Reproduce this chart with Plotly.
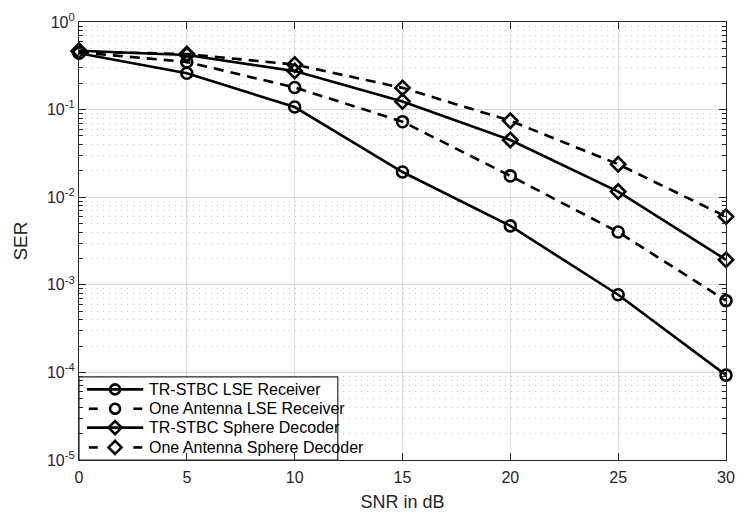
import plotly.graph_objects as go

snr = [0, 5, 10, 15, 20, 25, 30]
tr_lse = [0.44, 0.26, 0.107, 0.0194, 0.0047, 0.00077, 0.000093]
one_lse = [0.45, 0.35, 0.179, 0.0728, 0.0175, 0.0040, 0.00066]
tr_sd = [0.47, 0.42, 0.275, 0.124, 0.045, 0.0116, 0.00193]
one_sd = [0.46, 0.43, 0.327, 0.177, 0.0746, 0.0238, 0.0060]
names = ["TR-STBC LSE Receiver", "One Antenna LSE Receiver",
         "TR-STBC Sphere Decoder", "One Antenna Sphere Decoder"]
y_tickvals = [1e-5, 1e-4, 1e-3, 1e-2, 1e-1, 1]
y_ticktext = ["10<sup>-5</sup>", "10<sup>-4</sup>", "10<sup>-3</sup>",
              "10<sup>-2</sup>", "10<sup>-1</sup>", "10<sup>0</sup>"]

FONT = "Liberation Sans, Arial"
INK = "#262626"
DASH = "10px,7px"
fig = go.Figure()
series = [(tr_lse, "solid", "circle-open"), (one_lse, DASH, "circle-open"),
          (tr_sd, "solid", "diamond-open"), (one_sd, DASH, "diamond-open")]
for (ys, dash, sym), nm in zip(series, names):
    fig.add_trace(go.Scatter(
        x=snr, y=ys, name=nm, mode="lines+markers", cliponaxis=False,
        line=dict(color="black", width=2.6, dash=dash),
        marker=dict(symbol=sym, size=11, color="black", line=dict(width=2.6, color="black")),
        showlegend=False,
    ))

# ---- manual legend (overlay axis in pixel units of the plot area) ----
L_left, L_right, L_top, L_bottom = 79, 341, 378, 464
row_y = [391, 411, 430.5, 451]
legend_trace = dict(xaxis="x2", yaxis="y2", showlegend=False, hoverinfo="skip", cliponaxis=False)
fig.add_trace(go.Scatter(x=[L_left, L_right, L_right, L_left, L_left],
                         y=[L_top, L_top, L_bottom, L_bottom, L_top],
                         mode="lines", fill="toself", fillcolor="white",
                         line=dict(color=INK, width=1.2), **legend_trace))
for i, ((ys, dash, sym), nm) in enumerate(zip(series, names)):
    yy = row_y[i]
    if dash == "solid":
        segs = [(87, 144)]
    else:
        segs = [(89, 98), (134, 143)]
    for a, b in segs:
        fig.add_trace(go.Scatter(x=[a, b], y=[yy, yy], mode="lines",
                                 line=dict(color="black", width=2.6), **legend_trace))
    fig.add_trace(go.Scatter(x=[115.5], y=[yy], mode="markers",
                             marker=dict(symbol=sym, size=10, color="black",
                                         line=dict(width=2.6, color="black")),
                             **legend_trace))
    fig.add_annotation(x=148, y=yy, xref="x2", yref="y2", text=nm, showarrow=False,
                       xanchor="left", yanchor="middle",
                       font=dict(family=FONT, size=16, color="black"))

axis_common = dict(
    showline=True, linecolor=INK, linewidth=1.2, mirror="ticks",
    ticks="inside", ticklen=7, tickcolor=INK, tickwidth=1,
    tickfont=dict(family=FONT, size=16, color=INK),
    gridcolor="#dddddd", gridwidth=1, zeroline=False,
)
fig.update_xaxes(range=[0, 30], tickvals=snr, ticklabelstandoff=3,
                 title=dict(text="SNR in dB", font=dict(family=FONT, size=18, color=INK), standoff=10),
                 **axis_common)
fig.update_yaxes(type="log", range=[-5, 0], tickvals=y_tickvals, ticktext=y_ticktext,
                 title=dict(text="SER", font=dict(family=FONT, size=19, color=INK), standoff=14),
                 minor=dict(ticks="inside", ticklen=4, tickcolor=INK, showgrid=True,
                            gridcolor="#c8c8c8", griddash="1px,5px", gridwidth=1, dtick="D1"),
                 **axis_common)

fig.update_layout(
    width=746, height=520,
    margin=dict(l=79, r=12, t=11, b=56),
    plot_bgcolor="white", paper_bgcolor="white",
    showlegend=False,
    xaxis2=dict(overlaying="x", range=[79, 734], visible=False, fixedrange=True),
    yaxis2=dict(overlaying="y", range=[464, 11], visible=False, fixedrange=True),
)
fig.write_html("out.html")
